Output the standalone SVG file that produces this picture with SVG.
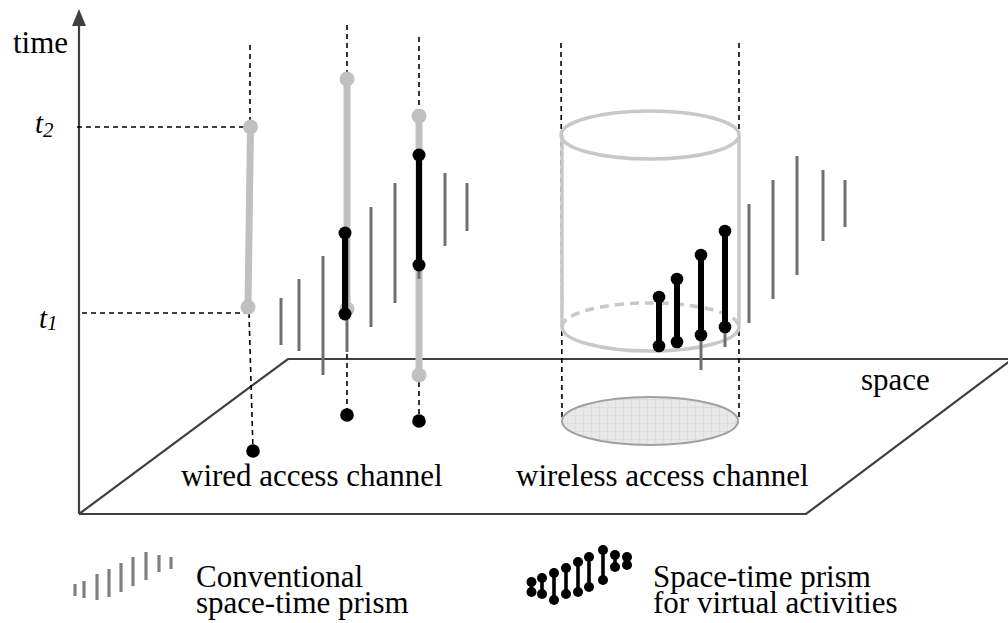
<svg xmlns="http://www.w3.org/2000/svg" width="1008" height="623" viewBox="0 0 1008 623">
<defs>
<style>
.txt{font-family:"Liberation Serif","Times New Roman",serif;font-size:31px;fill:#000}
.ti{font-family:"Liberation Serif","Times New Roman",serif;font-size:29px;font-style:italic;fill:#000}
.dash{stroke:#000;stroke-width:1.6;stroke-dasharray:5 4;fill:none}
.axis{stroke:#404040;stroke-width:2.2;fill:none}
.conv{stroke:#707070;stroke-width:3;fill:none}
.gcol{stroke:#c0c0c0;stroke-width:7;fill:none;stroke-linecap:round}
.gdot{fill:#c0c0c0}
.bcol{stroke:#000;stroke-width:6;fill:none}
.bdot{fill:#000}
.cyl{stroke:#c8c8c8;stroke-width:3.5;fill:none}
.lconv{stroke:#808080;stroke-width:3.2;fill:none}
.lvir{stroke:#000;stroke-width:3.6;fill:none}
</style>
<pattern id="grid" width="8" height="8" patternUnits="userSpaceOnUse">
<rect width="8" height="8" fill="#e8e8e8"/>
<path d="M8 0V8M0 8H8" stroke="#d4d4d4" stroke-width="1"/>
</pattern>
</defs>

<g id="plane">
<polyline class="axis" points="79,514 806,514 1015,357"/>
<polyline class="axis" points="79,514 288,359 1008,359"/>
</g>

<g id="time-axis">
<line class="axis" x1="79" y1="514" x2="79" y2="24"/>
<polygon points="79,9 72,26 86,26" fill="#404040"/>
<text class="txt" x="13" y="53">time</text>
</g>

<g id="time-marks">
<line class="dash" x1="77" y1="127" x2="248" y2="127"/>
<line class="dash" x1="82" y1="313" x2="245" y2="313"/>
<text class="ti" x="35" y="133">t<tspan font-size="21" dy="4">2</tspan></text>
<text class="ti" x="39" y="328">t<tspan font-size="21" dy="2">1</tspan></text>
</g>

<g id="connectors">
<line class="dash" x1="250" y1="45" x2="250" y2="122"/>
<line class="dash" x1="249" y1="313" x2="253" y2="450"/>
<line class="dash" x1="347" y1="25" x2="347" y2="74"/>
<line class="dash" x1="347" y1="318" x2="347" y2="414"/>
<line class="dash" x1="419" y1="37" x2="419" y2="110"/>
<line class="dash" x1="419" y1="382" x2="419" y2="420"/>
<line class="dash" x1="561" y1="43" x2="562" y2="420"/>
<line class="dash" x1="739" y1="43" x2="739" y2="420"/>
</g>

<g id="wired-channel">
<line class="gcol" x1="250.5" y1="127" x2="248" y2="307"/>
<circle class="gdot" cx="250.5" cy="127" r="7.5"/>
<circle class="gdot" cx="248" cy="307" r="7.5"/>
<line class="gcol" x1="347" y1="79" x2="347" y2="309"/>
<circle class="gdot" cx="347" cy="79" r="7.5"/>
<circle class="gdot" cx="347" cy="309" r="7.5"/>
<line class="gcol" x1="419" y1="116" x2="419" y2="375"/>
<circle class="gdot" cx="419" cy="116" r="7.5"/>
<circle class="gdot" cx="419" cy="375" r="7.5"/>
<g id="wired-conventional">
<line class="conv" x1="281" y1="298" x2="281" y2="345"/>
<line class="conv" x1="299" y1="279" x2="299" y2="351"/>
<line class="conv" x1="323" y1="256" x2="323" y2="375"/>
<line class="conv" x1="347" y1="232" x2="347" y2="352"/>
<line class="conv" x1="371" y1="207" x2="371" y2="327"/>
<line class="conv" x1="395" y1="183" x2="395" y2="303"/>
<line class="conv" x1="419" y1="159" x2="419" y2="279"/>
<line class="conv" x1="445" y1="173" x2="445" y2="246"/>
<line class="conv" x1="467" y1="183" x2="467" y2="231"/>
</g>
<line class="bcol" x1="345" y1="233" x2="345" y2="314"/>
<circle class="bdot" cx="345" cy="233" r="6.5"/>
<circle class="bdot" cx="345" cy="314" r="6.5"/>
<line class="bcol" x1="419" y1="155" x2="419" y2="265"/>
<circle class="bdot" cx="419" cy="155" r="6.5"/>
<circle class="bdot" cx="419" cy="265" r="6.5"/>
<circle class="bdot" cx="253" cy="451" r="6.8"/>
<circle class="bdot" cx="347" cy="415" r="6.8"/>
<circle class="bdot" cx="419" cy="421" r="6.8"/>
<text class="txt" x="181" y="486">wired access channel</text>
</g>

<g id="wireless-channel">
<ellipse cx="650" cy="421" rx="88" ry="24" fill="url(#grid)" stroke="#a0a0a0" stroke-width="2"/>
<line class="cyl" x1="562" y1="135" x2="562" y2="327" stroke-width="3"/>
<line class="cyl" x1="739" y1="135" x2="739" y2="327" stroke-width="3"/>
<ellipse class="cyl" cx="650" cy="135" rx="89" ry="24"/>
<path class="cyl" d="M562,327 A88,24 0 0 1 739,327" stroke-dasharray="9 6"/>
<path class="cyl" d="M562,327 A88,24 0 0 0 739,327"/>
<g id="wireless-conventional">
<line class="conv" x1="701" y1="252" x2="701" y2="370"/>
<line class="conv" x1="725" y1="228" x2="725" y2="347"/>
<line class="conv" x1="749" y1="204" x2="749" y2="323"/>
<line class="conv" x1="773" y1="180" x2="773" y2="299"/>
<line class="conv" x1="797" y1="156" x2="797" y2="275"/>
<line class="conv" x1="823" y1="170" x2="823" y2="241"/>
<line class="conv" x1="845" y1="180" x2="845" y2="227"/>
</g>
<g id="wireless-virtual">
<line class="bcol" stroke-width="5" x1="659" y1="297" x2="659" y2="346"/>
<circle class="bdot" cx="659" cy="297" r="6.3"/>
<circle class="bdot" cx="659" cy="346" r="6.3"/>
<line class="bcol" stroke-width="5" x1="677" y1="279" x2="677" y2="342"/>
<circle class="bdot" cx="677" cy="279" r="6.3"/>
<circle class="bdot" cx="677" cy="342" r="6.3"/>
<line class="bcol" stroke-width="5" x1="701" y1="255" x2="701" y2="335"/>
<circle class="bdot" cx="701" cy="255" r="6.3"/>
<circle class="bdot" cx="701" cy="335" r="6.3"/>
<line class="bcol" stroke-width="5" x1="725" y1="231" x2="725" y2="327"/>
<circle class="bdot" cx="725" cy="231" r="6.3"/>
<circle class="bdot" cx="725" cy="327" r="6.3"/>
</g>
<text class="txt" x="516" y="486">wireless access channel</text>
</g>

<text class="txt" x="861" y="390">space</text>

<g id="legend-conventional">
<line class="lconv" x1="75" y1="584" x2="75" y2="596"/>
<line class="lconv" x1="84" y1="581" x2="84" y2="598"/>
<line class="lconv" x1="97" y1="574" x2="97" y2="600"/>
<line class="lconv" x1="109" y1="569" x2="109" y2="597"/>
<line class="lconv" x1="121" y1="563" x2="121" y2="592"/>
<line class="lconv" x1="133" y1="557" x2="133" y2="586"/>
<line class="lconv" x1="146" y1="552" x2="146" y2="580"/>
<line class="lconv" x1="159" y1="555" x2="159" y2="572"/>
<line class="lconv" x1="171" y1="557" x2="171" y2="569"/>
<text class="txt" x="196" y="587">Conventional</text>
<text class="txt" x="196" y="613">space-time prism</text>
</g>

<g id="legend-virtual">
<g class="lvir">
<line x1="531.5" y1="582" x2="531.5" y2="592"/>
<line x1="542" y1="578" x2="542" y2="594"/>
<line x1="554" y1="573" x2="554" y2="600"/>
<line x1="566" y1="568" x2="566" y2="594"/>
<line x1="578" y1="562" x2="578" y2="592"/>
<line x1="589" y1="557" x2="589" y2="587"/>
<line x1="603" y1="550" x2="603" y2="580"/>
<line x1="615" y1="555" x2="615" y2="567"/>
<line x1="627" y1="557" x2="627" y2="565"/>
</g>
<g class="bdot">
<circle cx="531.5" cy="582" r="5"/><circle cx="531.5" cy="592" r="5"/>
<circle cx="542" cy="578" r="5"/><circle cx="542" cy="594" r="5"/>
<circle cx="554" cy="573" r="5"/><circle cx="554" cy="600" r="5"/>
<circle cx="566" cy="568" r="5"/><circle cx="566" cy="594" r="5"/>
<circle cx="578" cy="562" r="5"/><circle cx="578" cy="592" r="5"/>
<circle cx="589" cy="557" r="5"/><circle cx="589" cy="587" r="5"/>
<circle cx="603" cy="550" r="5"/><circle cx="603" cy="580" r="5"/>
<circle cx="615" cy="555" r="5"/><circle cx="615" cy="567" r="5"/>
<circle cx="627" cy="557" r="5"/><circle cx="627" cy="565" r="5"/>
</g>
<text class="txt" x="653" y="587">Space-time prism</text>
<text class="txt" x="653" y="613">for virtual activities</text>
</g>
</svg>
